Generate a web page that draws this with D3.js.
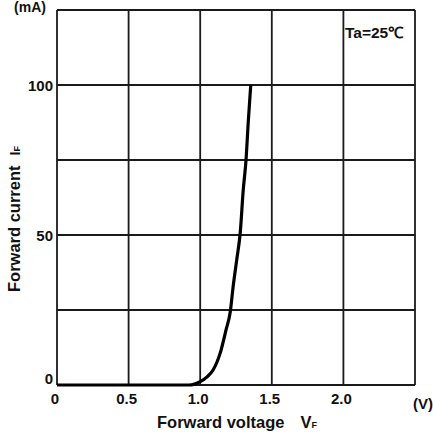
<!DOCTYPE html>
<html>
<head>
<meta charset="utf-8">
<script src="https://cdn.jsdelivr.net/npm/d3@7"></script>
<style>
  html, body { margin: 0; padding: 0; background: #fff; }
  svg { display: block; }
  text { font-family: "Liberation Sans", Arial, sans-serif; font-weight: bold; fill: #111; }
</style>
</head>
<body>
<svg id="chart" width="433" height="435"></svg>
<script>
// Forward voltage (V) vs forward current (mA) at Ta = 25 °C
const voltage = [0, 0.5, 0.92, 0.96, 1.0, 1.05, 1.09, 1.14, 1.18, 1.21, 1.23, 1.255, 1.28, 1.30, 1.32, 1.336, 1.353];
const current = [0, 0, 0, 0.3, 1.1, 2.8, 5, 10.7, 18.3, 24.4, 32.8, 41.7, 51, 64.7, 75, 88, 100];

const xGrid = [0, 0.5, 1.0, 1.5, 2.0, 2.5];
const yGrid = [0, 25, 50, 75, 100, 125];
const xTickLabels = ["0", "0.5", "1.0", "1.5", "2.0"];
const yTickValues = [0, 50, 100];
const yTickLabels = ["0", "50", "100"];

const svg = d3.select("#chart");

const x = d3.scaleLinear().domain([0, 2.5]).range([57, 415]);
const y = d3.scaleLinear().domain([0, 125]).range([385, 10]);

// grid
const grid = svg.append("g").attr("stroke", "#1a1a1a").attr("stroke-width", 1.8);
grid.selectAll("line.v").data(xGrid).join("line").attr("class", "v")
  .attr("x1", d => x(d)).attr("x2", d => x(d))
  .attr("y1", y(0)).attr("y2", y(125));
grid.selectAll("line.h").data(yGrid).join("line").attr("class", "h")
  .attr("x1", x(0)).attr("x2", x(2.5))
  .attr("y1", d => y(d)).attr("y2", d => y(d));

// curve
const pts = voltage.map((v, i) => [v, current[i]]);
const line = d3.line().x(d => x(d[0])).y(d => y(d[1])).curve(d3.curveMonotoneX);
svg.append("path").datum(pts)
  .attr("d", line)
  .attr("fill", "none")
  .attr("stroke", "#000")
  .attr("stroke-width", 3.2)
  .attr("stroke-linejoin", "round");

// x tick labels
svg.append("g").selectAll("text").data(xTickLabels).join("text")
  .attr("x", (d, i) => x(xGrid[i]) - 2)
  .attr("y", 404)
  .attr("text-anchor", "middle")
  .style("font-size", "15px")
  .text(d => d);

svg.append("text").attr("x", 423).attr("y", 409).attr("text-anchor", "middle")
  .style("font-size", "15px").text("(V)");

// y tick labels
svg.append("g").selectAll("text").data(yTickValues).join("text")
  .attr("x", 53)
  .attr("y", d => y(d) + (d === 0 ? -1 : 6))
  .attr("text-anchor", "end")
  .style("font-size", "15px")
  .text((d, i) => yTickLabels[i]);

svg.append("text").attr("x", 30).attr("y", 12).attr("text-anchor", "middle")
  .style("font-size", "14px").text("(mA)");

// axis titles
const xt = svg.append("text").attr("x", 157).attr("y", 428).style("font-size", "16.5px");
xt.append("tspan").text("Forward voltage");
xt.append("tspan").attr("dx", 16).text("V");
xt.append("tspan").style("font-size", "9px").text("F");

const yt = svg.append("text")
  .attr("transform", "translate(20,292) rotate(-90)")
  .style("font-size", "16.5px");
yt.append("tspan").text("Forward current");
yt.append("tspan").attr("dx", 10).style("font-size", "14px").text("I");
yt.append("tspan").style("font-size", "9px").text("F");

// ambient temperature note
svg.append("text").attr("x", 345).attr("y", 38)
  .style("font-size", "15.5px").text("Ta=25℃");
</script>
</body>
</html>
